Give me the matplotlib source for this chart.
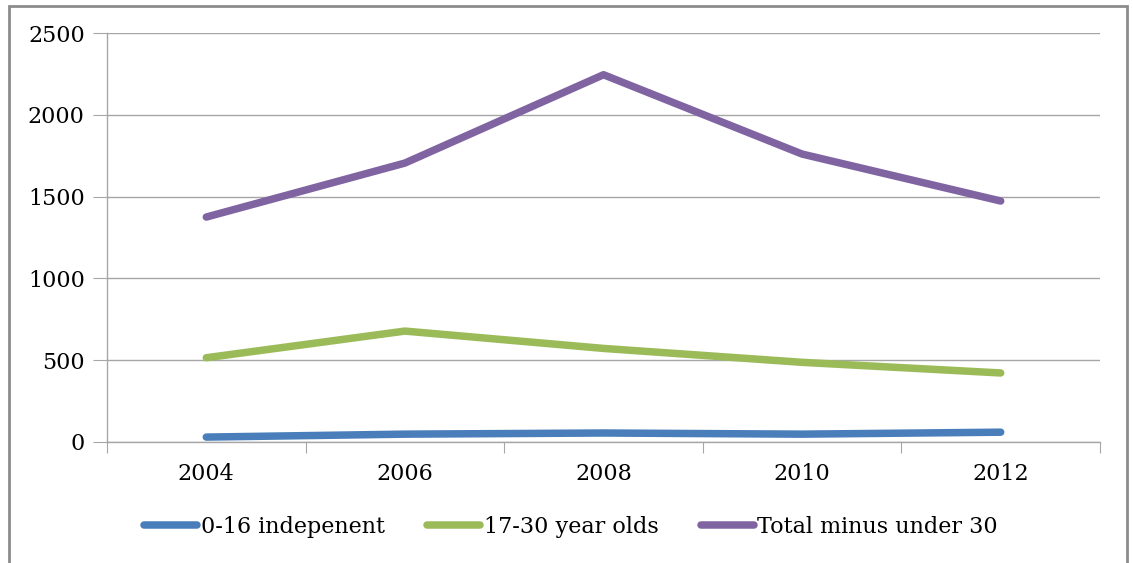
import matplotlib
matplotlib.use('Agg')
import matplotlib.pyplot as plt
from matplotlib.patches import Rectangle

years = ['2004', '2006', '2008', '2010', '2012']
indep_0_16 = [30, 48, 55, 48, 60]
year_17_30 = [515, 678, 572, 487, 422]
total_minus = [1375, 1705, 2245, 1760, 1473]

series = [
    ('0-16 indepenent', indep_0_16, '#4A7EBB'),
    ('17-30 year olds', year_17_30, '#9BBB59'),
    ('Total minus under 30', total_minus, '#8064A2'),
]

plt.rcParams['font.family'] = ['DejaVu Serif']
fs = 16

fig = plt.figure(figsize=(11.33, 5.63), dpi=100)
ax = fig.add_axes([107 / 1133, 1 - 442 / 563, (1100 - 107) / 1133, (442 - 33) / 563])

x = list(range(len(years)))
for name, vals, col in series:
    ax.plot(x, vals, color=col, lw=5.4, solid_capstyle='round', solid_joinstyle='round', label=name)

ax.set_xlim(-0.5, len(years) - 0.5)
ax.set_ylim(0, 2500)
ax.set_yticks(range(0, 2501, 500))
ax.yaxis.grid(True, color='#A6A6A6', lw=1)
ax.set_axisbelow(True)

# category boundaries get tick marks, labels sit in the middle
ax.set_xticks([i - 0.5 for i in range(len(years) + 1)])
ax.set_xticklabels([])
ax.set_xticks(x, minor=True)
ax.set_xticklabels(years, minor=True)
ax.tick_params(axis='x', which='major', length=8, color='#A6A6A6', direction='out')
ax.tick_params(axis='x', which='minor', length=0, pad=15, labelsize=fs)
ax.tick_params(axis='y', length=10, color='#A6A6A6', labelsize=fs, pad=6)

for s in ['top', 'right']:
    ax.spines[s].set_visible(False)
for s in ['left', 'bottom']:
    ax.spines[s].set_color('#A6A6A6')
    ax.spines[s].set_linewidth(1)

leg = fig.legend(loc='center', bbox_to_anchor=(571 / 1133, 1 - 527 / 563), ncol=3, frameon=False,
                 fontsize=fs, handlelength=2.4, handletextpad=0.15, columnspacing=1.9)

fig.patches.append(Rectangle((9 / 1133, -0.05), (1127 - 9) / 1133, 1.05 - 6 / 563,
                             transform=fig.transFigure, fill=False, edgecolor='#8C8C8C', lw=2))

fig.savefig('out.png', dpi=100)
